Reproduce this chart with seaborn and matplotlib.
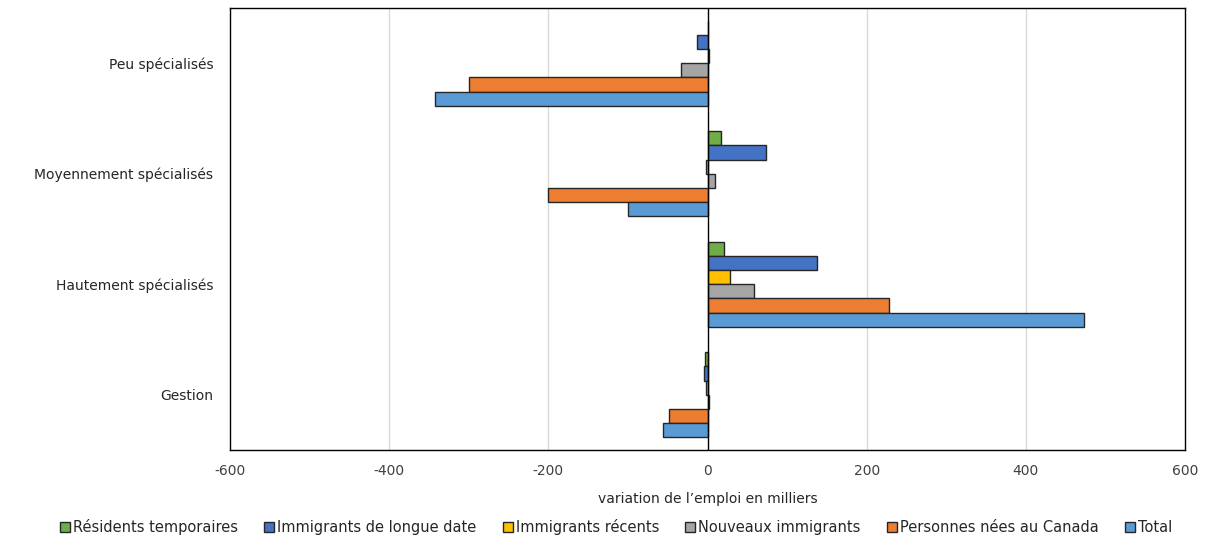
import matplotlib
matplotlib.use("Agg")
import matplotlib.pyplot as plt
import seaborn as sns
import pandas as pd
from matplotlib.patches import Patch

categories = ["Peu spécialisés", "Moyennement spécialisés", "Hautement spécialisés", "Gestion"]
series = ["Résidents temporaires", "Immigrants de longue date", "Immigrants récents",
          "Nouveaux immigrants", "Personnes nées au Canada", "Total"]
residents_temporaires = [1, 17, 21, -3]
immigrants_longue_date = [-13, 74, 137, -4]
immigrants_recents = [2, -2, 28, -2]
nouveaux_immigrants = [-33, 9, 58, 2]
personnes_nees_canada = [-300, -200, 228, -49]
total = [-342, -100, 473, -56]
xticks = [-600, -400, -200, 0, 200, 400, 600]

colors = ["#70AD47", "#4472C4", "#FFC000", "#A5A5A5", "#ED7D31", "#5B9BD5"]

values = [residents_temporaires, immigrants_longue_date, immigrants_recents,
          nouveaux_immigrants, personnes_nees_canada, total]
rows = []
for s, vals in zip(series, values):
    for c, v in zip(categories, vals):
        rows.append({"cat": c, "serie": s, "val": v})
df = pd.DataFrame(rows)

sns.set_style("white")
plt.rcParams["font.family"] = ["DejaVu Sans"]

fig = plt.figure(figsize=(12.11, 5.40), dpi=100)
ax = fig.add_axes([230/1211, 1-450/540, (1185-230)/1211, (450-8)/540])

sns.barplot(data=df, y="cat", x="val", hue="serie", order=categories, hue_order=series,
            palette=colors, saturation=1, orient="h", ax=ax, width=0.77, edgecolor="#262626",
            linewidth=1.0, legend=False, errorbar=None)

ax.set_xlim(-600, 600)
ax.set_xticks(xticks)
ax.set_xticklabels([str(t) for t in xticks], fontsize=10, color="#404040")
ax.set_ylabel("")
ax.set_xlabel("variation de l\u2019emploi en milliers", fontsize=10, color="#262626", labelpad=10)
ax.tick_params(axis="y", labelsize=10, length=0, pad=12, labelcolor="#262626")
ax.tick_params(axis="x", length=0, pad=10)
ax.set_axisbelow(True)
for t in [-400, -200, 200, 400]:
    ax.axvline(t, color="#D9D9D9", linewidth=1, zorder=0)
ax.axvline(0, color="black", linewidth=1, zorder=3)
for sp in ax.spines.values():
    sp.set_visible(True)
    sp.set_color("black")
    sp.set_linewidth(1)

handles = [Patch(facecolor=c, edgecolor="#262626", linewidth=1, label=s) for s, c in zip(series, colors)]
fig.legend(handles=handles, loc="center", bbox_to_anchor=(616/1211, 1-527/540), ncol=6,
           frameon=False, fontsize=10.5, handlelength=0.7, handleheight=0.7,
           handletextpad=0.2, columnspacing=1.8)

fig.savefig("out.png", dpi=100)
